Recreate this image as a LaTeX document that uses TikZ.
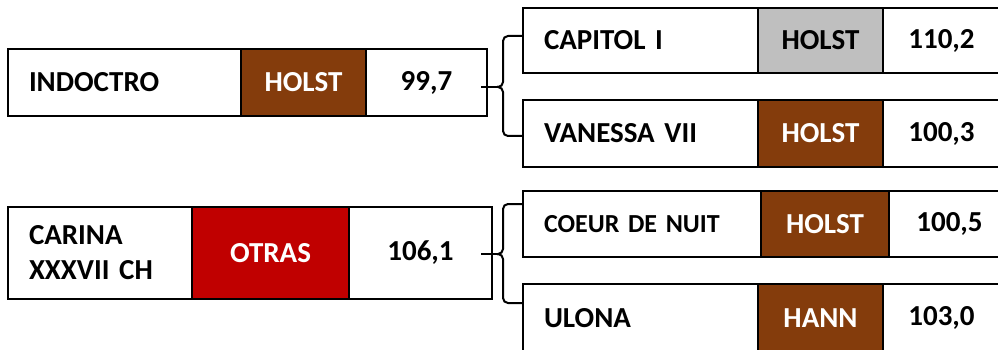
\documentclass[tikz,border=0pt]{standalone}
\usepackage{fontspec}
\setmainfont{Carlito}
\usetikzlibrary{positioning}
\definecolor{holst}{HTML}{843C0C}
\definecolor{otras}{HTML}{C00000}
\definecolor{light}{HTML}{BFBFBF}

\begin{document}
\begin{tikzpicture}[
  x=1pt, y=-1pt,
  node distance=0pt,
  every node/.style={font=\fontsize{29}{35}\selectfont\bfseries},
  cell/.style={rectangle, draw=black, line width=2.5pt, inner sep=0pt, outer sep=0pt, align=center},
  namecell/.style={cell, inner xsep=21pt, text width=#1, align=left},
  colorcell/.style={cell, minimum width=#1, fill=holst, text=white},
  valuecell/.style={cell, minimum width=#1},
  bracket/.style={black, line width=2pt, rounded corners=5pt},
]
\path[use as bounding box, clip] (0,0) rectangle (998,350);

% Upper pair
\node[namecell=191pt, minimum height=67pt, anchor=north west] (indname) at (8,49) {INDOCTRO};
\node[colorcell=125pt, minimum height=67pt, right=of indname] (indcol) {HOLST};
\node[valuecell=121pt, minimum height=67pt, right=of indcol] (indval) {99,7};

\node[namecell=193pt, minimum height=65pt, anchor=north west] (capname) at (523,8) {CAPITOL I};
\node[colorcell=125pt, minimum height=65pt, fill=light, text=black, right=of capname] (capcol) {HOLST};
\node[valuecell=117pt, minimum height=65pt, right=of capcol] (capval) {110,2};

\node[namecell=193pt, minimum height=67pt, anchor=north west] (vanname) at (523,100) {VANESSA VII};
\node[colorcell=125pt, minimum height=67pt, right=of vanname] (vancol) {HOLST};
\node[valuecell=117pt, minimum height=67pt, right=of vancol] (vanval) {100,3};

% Lower pair
\node[namecell=142pt, minimum height=92pt, anchor=north west] (carname) at (8,207) {CARINA\\XXXVII CH};
\node[colorcell=157pt, minimum height=92pt, fill=otras, right=of carname] (carcol) {OTRAS};
\node[valuecell=143pt, minimum height=92pt, right=of carcol] (carval) {106,1};

\node[namecell=196pt, minimum height=66pt, anchor=north west, font=\fontsize{26}{31}\selectfont\bfseries] (coename) at (523,191) {COEUR DE NUIT};
\node[colorcell=128pt, minimum height=66pt, right=of coename] (coecol) {HOLST};
\node[valuecell=121pt, minimum height=66pt, right=of coecol] (coeval) {100,5};

\node[namecell=193pt, minimum height=68pt, anchor=north west] (ulname) at (523,284) {ULONA};
\node[colorcell=125pt, minimum height=68pt, right=of ulname] (ulcol) {HANN};
\node[valuecell=117pt, minimum height=68pt, right=of ulcol] (ulval) {103,0};

% Braces
\coordinate (tipA) at (497,87);
\coordinate (tipB) at (497,254);
\draw[bracket] ([yshift=4.5pt]capname.west) -| ([xshift=6pt]tipA) -- (tipA);
\draw[bracket] ([yshift=-2.5pt]vanname.west) -| ([xshift=6pt]tipA) -- (tipA);
\draw[bracket] ([xshift=-6pt, yshift=-4.5pt]indval.east) -- (tipA);

\draw[bracket] ([yshift=20pt]coename.west) -| ([xshift=6pt]tipB) -- (tipB);
\draw[bracket] ([yshift=15pt]ulname.west) -| ([xshift=6pt]tipB) -- (tipB);
\draw[bracket] ([xshift=-11pt, yshift=-1pt]carval.east) -- (tipB);
\end{tikzpicture}
\end{document}
